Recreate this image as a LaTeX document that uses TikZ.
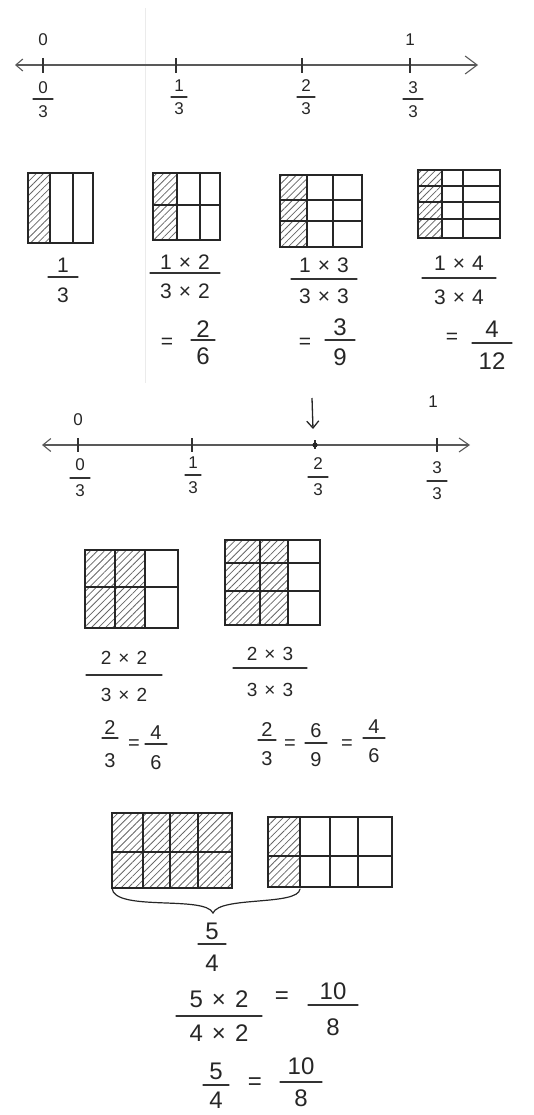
\documentclass[tikz,border=0pt]{standalone}
\usepackage{fontspec}
\setmainfont{Liberation Sans}
\usetikzlibrary{arrows.meta,patterns.meta}
\newcommand{\X}[1][6pt]{\hspace{#1}×\hspace{#1}}
% name, x, ybar, half-width, numerator, denominator, up offset, down offset
\newcommand{\hfr}[8]{%
  \node[lbl] (#1n) at (#2,#3-#7) {#5};
  \node[lbl] (#1d) at (#2,#3+#8) {#6};
  \coordinate (#1l) at (#2-#4,#3);
  \coordinate (#1r) at (#2+#4,#3);
  \draw[fbar] (#1l) -- (#1r);}
\begin{document}
\begin{tikzpicture}[x=1pt,y=-1pt,
  lbl/.style={inner sep=0pt,font=\fontsize{17}{20}\selectfont,text=black!85},
  fbar/.style={line width=1.1pt,line cap=round,draw=black!80},
  numline/.style={line width=1.1pt,draw=black!65},
  tick/.style={line width=1.3pt,draw=black!80},
  boxline/.style={line width=1.5pt,draw=black!85,line cap=round},
  hatch/.style={pattern={Lines[angle=45,distance=5pt,line width=0.8pt]},pattern color=black!60},
]
\useasboundingbox (0,0) rectangle (534,1115);
% faint divider
\draw[black!8,line width=1pt] (145,8) -- (145,383);

% ---------- number line 1 ----------
\coordinate (A1) at (15,65);
\coordinate (B1) at (478,65);
\draw[numline,{Straight Barb[length=7pt,width=12pt]}-{Straight Barb[length=12pt,width=18pt]}] (A1) -- (B1);
\foreach \n/\x in {ta/43,tb/176,tc/302,td/410}{
  \coordinate (\n) at (\x,65);
  \draw[tick] (\n) ++(0,-7) -- ++(0,15);
}
\begin{scope}[lbl/.style={inner sep=0pt,font=\fontsize{17}{20}\selectfont,text=black!85}]
\node[lbl] (z1) at (43,40) {0};
\node[lbl] (o1) at (410,40) {1};
\hfr{fa}{43}{99}{10}{0}{3}{11}{13}
\hfr{fb}{179}{97}{8}{1}{3}{11}{12}
\hfr{fc}{306}{97}{9}{2}{3}{11}{12}
\hfr{fd}{413}{99}{10}{3}{3}{11}{13}
\end{scope}

% ---------- row 1 boxes ----------
\fill[hatch] (28,173) rectangle (50,243);
\draw[boxline] (28,173) rectangle (93,243);
\draw[boxline] (50,173) -- (50,243) (73,173) -- (73,243);

\fill[hatch] (153,173) rectangle (177,240);
\draw[boxline] (153,173) rectangle (220,240);
\draw[boxline] (177,173) -- (177,240) (200,173) -- (200,240) (153,205) -- (220,205);

\fill[hatch] (280,175) rectangle (307,247);
\draw[boxline] (280,175) rectangle (362,247);
\draw[boxline] (307,175) -- (307,247) (333,175) -- (333,247) (280,200) -- (362,200) (280,221) -- (362,221);

\fill[hatch] (418,170) rectangle (442,238);
\draw[boxline] (418,170) rectangle (500,238);
\draw[boxline] (442,170) -- (442,238) (463,170) -- (463,238)
  (418,186) -- (500,186) (418,202) -- (500,202) (418,219) -- (500,219);

\begin{scope}[lbl/.style={inner sep=0pt,font=\fontsize{21}{24}\selectfont,text=black!85}]
\hfr{f1}{63}{277}{15}{1}{3}{12}{18}
\hfr{f2}{185}{273}{35}{1\X[7pt]2}{3\X[7pt]2}{11}{18}
\hfr{f3}{324}{279}{33}{1\X[7pt]3}{3\X[7pt]3}{14}{17}
\hfr{f4}{459}{278}{37}{1\X[7pt]4}{3\X[7pt]4}{15}{19}
\node[lbl] (q2) at (167,343) {=};
\node[lbl] (q3) at (305,343) {=};
\node[lbl] (q4) at (452,338) {=};
\end{scope}
\begin{scope}[lbl/.style={inner sep=0pt,font=\fontsize{24}{28}\selectfont,text=black!85}]
\hfr{e2}{203}{340}{12}{2}{6}{11}{16}
\hfr{e3}{340}{340}{15}{3}{9}{13}{17}
\hfr{e4}{492}{343}{20}{4}{12}{14}{18}
\end{scope}

% ---------- number line 2 ----------
\coordinate (A2) at (42,445);
\coordinate (B2) at (470,445);
\draw[numline,{Straight Barb[length=8pt,width=13pt]}-{Straight Barb[length=10pt,width=14pt]}] (A2) -- (B2);
\foreach \n/\x in {sa/78,sb/192,sd/437}{
  \coordinate (\n) at (\x,445);
  \draw[tick] (\n) ++(0,-7) -- ++(0,14);
}
\coordinate (sc) at (315,445);
\draw[tick] (sc) ++(0,-5) -- ++(0,9);
\fill[black!85] (sc) circle (2.6pt);
\coordinate (dw) at (312,398);
\coordinate (dwe) at (313,429);
\draw[line width=1.3pt,draw=black!85,-{Straight Barb[length=7pt,width=12pt]}] (dw) -- (dwe);
\begin{scope}[lbl/.style={inner sep=0pt,font=\fontsize{17}{20}\selectfont,text=black!85}]
\node[lbl] (z2) at (78,420) {0};
\node[lbl] (o2) at (433,402) {1};
\hfr{ga}{80}{478}{10}{0}{3}{13}{13}
\hfr{gb}{193}{475}{8}{1}{3}{12}{13}
\hfr{gc}{318}{477}{10}{2}{3}{13}{13}
\hfr{gd}{437}{481}{10}{3}{3}{13}{13}
\end{scope}

% ---------- row 3 boxes ----------
\fill[hatch] (85,550) rectangle (145,628);
\draw[boxline] (85,550) rectangle (178,628);
\draw[boxline] (115,550) -- (115,628) (145,550) -- (145,628) (85,587) -- (178,587);

\fill[hatch] (225,540) rectangle (288,625);
\draw[boxline] (225,540) rectangle (320,625);
\draw[boxline] (260,540) -- (260,625) (288,540) -- (288,625) (225,563) -- (320,563) (225,591) -- (320,591);

\begin{scope}[lbl/.style={inner sep=0pt,font=\fontsize{19}{22}\selectfont,text=black!85}]
\hfr{fA}{124}{675}{38}{2\X[7pt]2}{3\X[7pt]2}{17}{20}
\hfr{fB}{270}{668}{37}{2\X[7pt]3}{3\X[7pt]3}{14}{22}
\end{scope}
\begin{scope}[lbl/.style={inner sep=0pt,font=\fontsize{20}{24}\selectfont,text=black!85}]
\hfr{hA}{110}{738}{8}{2}{3}{10}{23}
\node[lbl] (qA) at (134,745) {=};
\hfr{hB}{156}{744}{11}{4}{6}{11}{19}
\hfr{hC}{267}{740}{9}{2}{3}{10}{19}
\node[lbl] (qC) at (290,745) {=};
\hfr{hD}{316}{743}{11}{6}{9}{12}{17}
\node[lbl] (qD) at (347,745) {=};
\hfr{hE}{374}{738}{11}{4}{6}{11}{18}
\end{scope}

% ---------- row 4 boxes ----------
\fill[hatch] (112,813) rectangle (232,888);
\draw[boxline] (112,813) rectangle (232,888);
\draw[boxline] (143,813) -- (143,888) (170,813) -- (170,888) (198,813) -- (198,888) (112,852) -- (232,852);

\fill[hatch] (268,817) rectangle (300,887);
\draw[boxline] (268,817) rectangle (392,887);
\draw[boxline] (300,817) -- (300,887) (330,817) -- (330,887) (358,817) -- (358,887) (268,856) -- (392,856);

\coordinate (br1) at (112,888);
\coordinate (brt) at (213,913);
\coordinate (br2) at (300,889);
\draw[line width=1.2pt,draw=black!85,line cap=round]
  (br1) .. controls (114,912) and (205,895) .. (brt)
  .. controls (220,896) and (298,906) .. (br2);

\begin{scope}[lbl/.style={inner sep=0pt,font=\fontsize{24}{28}\selectfont,text=black!85}]
\hfr{g5}{212}{944}{14}{5}{4}{13}{19}
\hfr{g6}{219}{1016}{43}{5\X[9pt]2}{4\X[9pt]2}{17}{17}
\node[lbl] (q6) at (282,998) {=};
\hfr{g7}{333}{1005}{25}{10}{8}{14}{22}
\hfr{g8}{216}{1085}{13}{5}{4}{14}{15}
\node[lbl] (q8) at (255,1084) {=};
\hfr{g9}{301}{1082}{21}{10}{8}{16}{16}
\end{scope}
\end{tikzpicture}
\end{document}
